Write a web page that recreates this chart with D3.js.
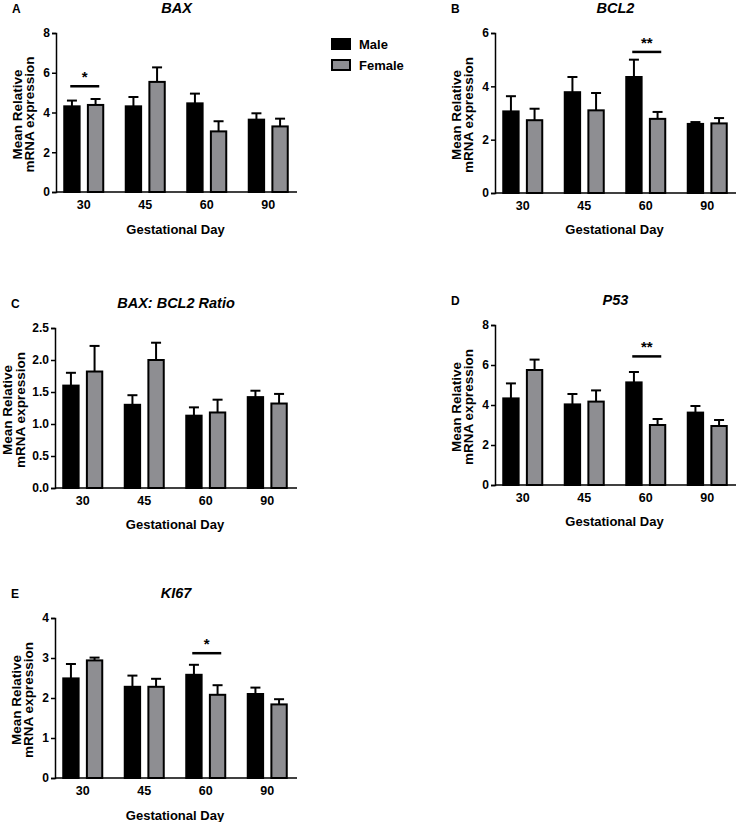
<!DOCTYPE html>
<html>
<head>
<meta charset="utf-8">
<title>gene expression by gestational day</title>
<script src="https://cdn.jsdelivr.net/npm/d3@7"></script>
<style>
  body { margin: 0; background: #fff; }
  text { font-family: Arial, "Liberation Sans", sans-serif; font-weight: bold; fill: #000; }
</style>
</head>
<body>
<script>
// categories and series
var days = ['30', '45', '60', '90'];
var sexes = ['Male', 'Female'];

// mean values (male, female) per day, and upper error (mean + SEM)
var baxMale = [4.31, 4.31, 4.46, 3.64];
var baxFemale = [4.38, 5.54, 3.05, 3.30];
var baxMaleErr = [4.60, 4.78, 4.95, 3.96];
var baxFemaleErr = [4.68, 6.27, 3.56, 3.69];

var bcl2Male = [3.06, 3.78, 4.35, 2.59];
var bcl2Female = [2.73, 3.10, 2.78, 2.61];
var bcl2MaleErr = [3.63, 4.35, 5.00, 2.66];
var bcl2FemaleErr = [3.16, 3.75, 3.04, 2.81];

var ratioMale = [1.60, 1.30, 1.13, 1.42];
var ratioFemale = [1.82, 2.00, 1.18, 1.32];
var ratioMaleErr = [1.80, 1.45, 1.26, 1.52];
var ratioFemaleErr = [2.22, 2.27, 1.38, 1.47];

var p53Male = [4.33, 4.03, 5.13, 3.62];
var p53Female = [5.75, 4.17, 3.00, 2.95];
var p53MaleErr = [5.08, 4.55, 5.65, 3.95];
var p53FemaleErr = [6.27, 4.73, 3.30, 3.25];

var ki67Male = [2.49, 2.28, 2.58, 2.10];
var ki67Female = [2.94, 2.28, 2.08, 1.84];
var ki67MaleErr = [2.85, 2.56, 2.83, 2.26];
var ki67FemaleErr = [3.01, 2.48, 2.32, 1.97];

// y axis ticks
var ticks0to8 = [0, 2, 4, 6, 8];
var ticks0to6 = [0, 2, 4, 6];
var ticksRatio = [0, 0.5, 1.0, 1.5, 2.0, 2.5];
var ticks0to4 = [0, 1, 2, 3, 4];

var femaleGray = '#8e8e92';

var panels = [
  {letter: 'A', title: 'BAX', male: baxMale, female: baxFemale, maleErr: baxMaleErr, femaleErr: baxFemaleErr,
   ticks: ticks0to8, fmt: d3.format('d'), sig: {day: '30', y: 5.32, label: '*'},
   ax: 56, top: 33, bot: 192, end: 297, xlabel: 229, yt: [-34, -22]},
  {letter: 'B', title: 'BCL2', male: bcl2Male, female: bcl2Female, maleErr: bcl2MaleErr, femaleErr: bcl2FemaleErr,
   ticks: ticks0to6, fmt: d3.format('d'), sig: {day: '60', y: 5.29, label: '**'},
   ax: 495, top: 33, bot: 193, end: 736, xlabel: 229, yt: [-34, -22]},
  {letter: 'C', title: 'BAX: BCL2 Ratio', male: ratioMale, female: ratioFemale, maleErr: ratioMaleErr, femaleErr: ratioFemaleErr,
   ticks: ticksRatio, fmt: d3.format('.1f'), sig: null,
   ax: 55, top: 328, bot: 488, end: 297, xlabel: 524, yt: [-43, -30]},
  {letter: 'D', title: 'P53', male: p53Male, female: p53Female, maleErr: p53MaleErr, femaleErr: p53FemaleErr,
   ticks: ticks0to8, fmt: d3.format('d'), sig: {day: '60', y: 6.43, label: '**'},
   ax: 495, top: 325, bot: 485, end: 736, xlabel: 521, yt: [-34, -22]},
  {letter: 'E', title: 'KI67', male: ki67Male, female: ki67Female, maleErr: ki67MaleErr, femaleErr: ki67FemaleErr,
   ticks: ticks0to4, fmt: d3.format('d'), sig: {day: '60', y: 3.12, label: '*'},
   ax: 55, top: 618, bot: 778, end: 297, xlabel: 815, yt: [-34, -22]}
];

var svg = d3.select('body').append('svg')
  .attr('width', 738)
  .attr('height', 822);

panels.forEach(function(p) {
  var g = svg.append('g');
  var x0 = d3.scaleBand().domain(days).range([p.ax - 3, p.ax + 243]);
  var x1 = d3.scaleBand().domain(sexes).range([-19.5, 19.5]).paddingInner(0.35);
  var y = d3.scaleLinear().domain([d3.min(p.ticks), d3.max(p.ticks)]).range([p.bot, p.top]);
  var cx = function(day) { return x0(day) + x0.bandwidth() / 2; };

  var rows = [];
  days.forEach(function(d, i) {
    rows.push({day: d, sex: 'Male', v: p.male[i], e: p.maleErr[i]});
    rows.push({day: d, sex: 'Female', v: p.female[i], e: p.femaleErr[i]});
  });

  // error bars (upper only)
  g.selectAll('.err').data(rows).enter().append('line')
    .attr('x1', function(d) { return cx(d.day) + x1(d.sex) + x1.bandwidth() / 2; })
    .attr('x2', function(d) { return cx(d.day) + x1(d.sex) + x1.bandwidth() / 2; })
    .attr('y1', function(d) { return y(d.v); })
    .attr('y2', function(d) { return y(d.e); })
    .attr('stroke', '#000').attr('stroke-width', 2);
  g.selectAll('.cap').data(rows).enter().append('line')
    .attr('x1', function(d) { return cx(d.day) + x1(d.sex) + x1.bandwidth() / 2 - 5; })
    .attr('x2', function(d) { return cx(d.day) + x1(d.sex) + x1.bandwidth() / 2 + 5; })
    .attr('y1', function(d) { return y(d.e); })
    .attr('y2', function(d) { return y(d.e); })
    .attr('stroke', '#000').attr('stroke-width', 2);

  // bars
  g.selectAll('.bar').data(rows).enter().append('rect')
    .attr('x', function(d) { return cx(d.day) + x1(d.sex); })
    .attr('width', x1.bandwidth())
    .attr('y', function(d) { return y(d.v); })
    .attr('height', function(d) { return y(0) - y(d.v); })
    .attr('fill', function(d) { return d.sex == 'Male' ? '#000' : femaleGray; })
    .attr('stroke', '#000').attr('stroke-width', 2);

  // y axis
  var yAxis = d3.axisLeft(y).tickValues(p.ticks).tickFormat(p.fmt).tickSize(4).tickPadding(2);
  var ya = g.append('g').attr('transform', 'translate(' + p.ax + ',0)').call(yAxis);
  ya.select('.domain').attr('stroke-width', 1.5);
  ya.selectAll('.tick line').attr('stroke-width', 1.5);
  ya.selectAll('.tick text').style('font-size', '12px').style('font-family', 'Arial, "Liberation Sans", sans-serif').style('font-weight', 'bold');

  // x axis
  g.append('line')
    .attr('x1', p.ax).attr('x2', p.end)
    .attr('y1', y(0)).attr('y2', y(0))
    .attr('stroke', '#000').attr('stroke-width', 1.5);
  g.selectAll('.xlab').data(days).enter().append('text')
    .attr('x', function(d) { return cx(d); })
    .attr('y', p.bot + 17)
    .attr('text-anchor', 'middle')
    .style('font-size', '12.5px')
    .text(function(d) { return d; });

  g.append('text')
    .attr('x', (p.ax + p.end) / 2 - 1)
    .attr('y', p.xlabel + 5)
    .attr('text-anchor', 'middle')
    .style('font-size', '13px')
    .text('Gestational Day');

  // y title
  var ymid = (p.top + p.bot) / 2 + 2;
  g.append('text')
    .attr('transform', 'translate(' + (p.ax + p.yt[0]) + ',' + ymid + ') rotate(-90)')
    .attr('text-anchor', 'middle')
    .style('font-size', '13.5px')
    .text('Mean Relative');
  g.append('text')
    .attr('transform', 'translate(' + (p.ax + p.yt[1]) + ',' + ymid + ') rotate(-90)')
    .attr('text-anchor', 'middle')
    .style('font-size', '13.5px')
    .text('mRNA expression');

  // title and letter
  g.append('text')
    .attr('x', (p.ax + p.end) / 2)
    .attr('y', p.top - 20)
    .attr('text-anchor', 'middle')
    .style('font-size', '14.5px')
    .style('font-style', 'italic')
    .text(p.title);
  g.append('text')
    .attr('x', p.ax - 44)
    .attr('y', p.top - 20)
    .style('font-size', '12px')
    .text(p.letter);

  // significance marker
  if (p.sig) {
    var c = cx(p.sig.day);
    g.append('line')
      .attr('x1', c + x1('Male') + 6).attr('x2', c + x1('Female') + x1.bandwidth() - 4)
      .attr('y1', y(p.sig.y)).attr('y2', y(p.sig.y))
      .attr('stroke', '#000').attr('stroke-width', 2.5);
    g.append('text')
      .attr('x', c + 1)
      .attr('y', y(p.sig.y) - 4)
      .attr('text-anchor', 'middle')
      .style('font-size', '15px')
      .text(p.sig.label);
  }
});

// legend
var legend = svg.append('g');
legend.selectAll('rect').data(sexes).enter().append('rect')
  .attr('x', 332)
  .attr('y', function(d, i) { return 39 + i * 21; })
  .attr('width', 18).attr('height', 10)
  .attr('fill', function(d) { return d == 'Male' ? '#000' : femaleGray; })
  .attr('stroke', '#000').attr('stroke-width', 2);
legend.selectAll('text').data(sexes).enter().append('text')
  .attr('x', 359)
  .attr('y', function(d, i) { return 49 + i * 21; })
  .style('font-size', '13px')
  .text(function(d) { return d; });
</script>
</body>
</html>
